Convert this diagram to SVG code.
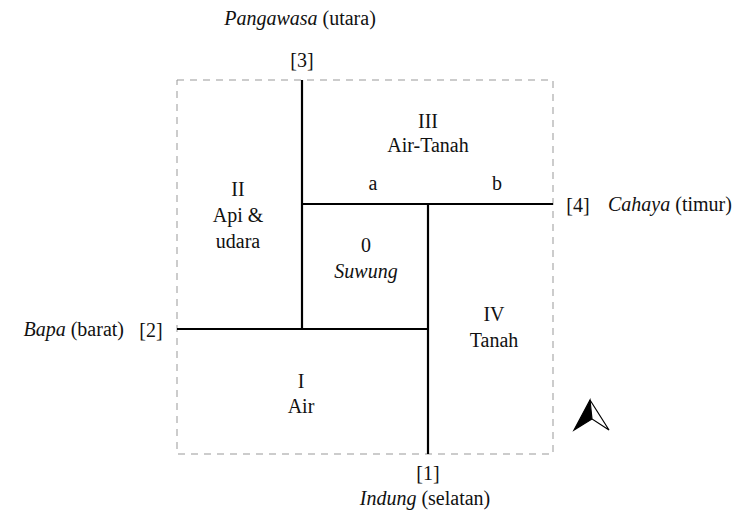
<svg xmlns="http://www.w3.org/2000/svg" width="744" height="520" viewBox="0 0 744 520">
<style>
.t{font-family:'Liberation Serif','Times New Roman',Times,'DejaVu Serif',serif;font-size:20px;fill:#111}
.c{text-anchor:middle}
.i{font-style:italic}
.wall{stroke:#000;stroke-width:2.2;fill:none}
.frame{stroke:#999;stroke-width:1;stroke-dasharray:7,6;fill:none}
</style>
<rect width="744" height="520" fill="#fff"/>
<rect class="frame" x="177" y="80" width="376" height="374"/>
<g id="connectors">
<line class="wall" x1="302" y1="80" x2="302" y2="330"/>
<line class="wall" x1="301" y1="204" x2="553" y2="204"/>
<line class="wall" x1="428" y1="203" x2="428" y2="454"/>
<line class="wall" x1="177" y1="329" x2="429" y2="329"/>
</g>
<g class="t">
<g id="north"><text x="300" y="25" class="c"><tspan class="i">Pangawasa</tspan> (utara)</text><text x="302" y="67" class="c">[3]</text></g>
<g id="east"><text x="578" y="212" class="c">[4]</text><text x="608" y="211"><tspan class="i">Cahaya</tspan> (timur)</text></g>
<g id="west"><text x="124" y="336" text-anchor="end"><tspan class="i">Bapa</tspan> (barat)</text><text x="151" y="337" class="c">[2]</text></g>
<g id="south"><text x="428" y="480" class="c">[1]</text><text x="425" y="505" class="c"><tspan class="i">Indung</tspan> (selatan)</text></g>
<g id="zone3"><text x="428" y="128" class="c">III</text><text x="428" y="152" class="c">Air-Tanah</text><text x="373" y="190" class="c">a</text><text x="497" y="190" class="c">b</text></g>
<g id="zone2"><text x="238" y="196" class="c">II</text><text x="238" y="222" class="c">Api &amp;</text><text x="238" y="248" class="c">udara</text></g>
<g id="zone0"><text x="366" y="252" class="c">0</text><text x="366" y="278" class="c i">Suwung</text></g>
<g id="zone4"><text x="494" y="321" class="c">IV</text><text x="494" y="347" class="c">Tanah</text></g>
<g id="zone1"><text x="301" y="388" class="c">I</text><text x="301" y="413" class="c">Air</text></g>
</g>
<g id="compass">
<polygon points="590,400 574,430 592,419" fill="#000" stroke="#000" stroke-width="1.2"/>
<polygon points="590,400 609,430 592,419" fill="#fff" stroke="#000" stroke-width="1.2"/>
</g>
</svg>
